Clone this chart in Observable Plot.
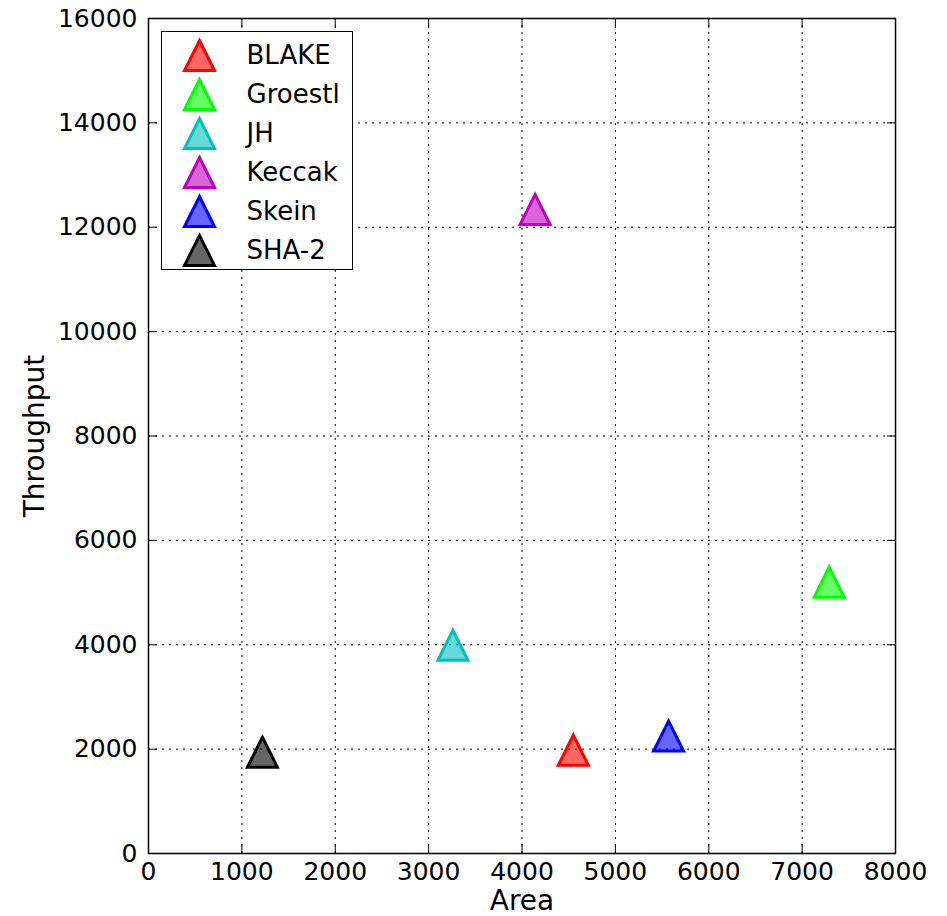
<!DOCTYPE html>
<html>
<head>
<meta charset="utf-8">
<script src="https://cdn.jsdelivr.net/npm/d3@7"></script>
<script src="https://cdn.jsdelivr.net/npm/@observablehq/plot@0.6"></script>
<style>
  html, body { margin: 0; padding: 0; background: white; }
  #wrap { position: relative; width: 947px; height: 916px; }
  #legend { position: absolute; left: 161px; top: 31px; width: 190px; height: 237px;
            border: 1.5px solid black; background: white; }
  #legend svg { display: block; }
</style>
</head>
<body>
<div id="wrap"><div id="legend"></div></div>
<script>
const names = ["BLAKE", "Groestl", "JH", "Keccak", "Skein", "SHA-2"];
const area = [4550, 7290, 3260, 4140, 5570, 1220];
const throughput = [1980, 5200, 3990, 12340, 2250, 1940];
const colors = ["#ff0000", "#00ff00", "#00bfbf", "#bf00bf", "#0000ff", "#000000"];
const xTicks = [0, 1000, 2000, 3000, 4000, 5000, 6000, 7000, 8000];
const yTicks = [0, 2000, 4000, 6000, 8000, 10000, 12000, 14000, 16000];

const data = names.map((n, i) => ({name: n, area: area[i], throughput: throughput[i]}));

// matplotlib-style "^" marker: isosceles triangle, centred on its bounding box
const tri = {
  draw(context, size) {
    const r = Math.sqrt(size / Math.PI);
    context.moveTo(0, -r);
    context.lineTo(r, r);
    context.lineTo(-r, r);
    context.closePath();
  }
};

const font = "DejaVu Sans, sans-serif";

const chart = Plot.plot({
  width: 947,
  height: 916,
  marginLeft: 148,
  marginRight: 52,
  marginTop: 18,
  marginBottom: 63,
  style: {fontFamily: font, fontSize: "25px", background: "white", color: "black", overflow: "visible"},
  x: {domain: [0, 8000], label: null},
  y: {domain: [0, 16000], label: null},
  color: {domain: names, range: colors},
  marks: [
    Plot.gridX(xTicks, {stroke: "black", strokeOpacity: 1, strokeWidth: 1, strokeDasharray: "2,5"}),
    Plot.gridY(yTicks, {stroke: "black", strokeOpacity: 1, strokeWidth: 1, strokeDasharray: "2,5"}),
    Plot.axisX({ticks: xTicks, anchor: "bottom", tickSize: 0, tickPadding: 9, label: null, fontSize: 25, tickFormat: d => String(d)}),
    Plot.axisY({ticks: yTicks, anchor: "left", tickSize: 0, tickPadding: 11, label: null, fontSize: 25, tickFormat: d => String(d)}),
    Plot.axisX({ticks: xTicks, anchor: "bottom", tickSize: -9, text: null, label: null, strokeWidth: 1}),
    Plot.axisX({ticks: xTicks, anchor: "top", tickSize: -9, text: null, label: null, strokeWidth: 1}),
    Plot.axisY({ticks: yTicks, anchor: "left", tickSize: -9, text: null, label: null, strokeWidth: 1}),
    Plot.axisY({ticks: yTicks, anchor: "right", tickSize: -9, text: null, label: null, strokeWidth: 1}),
    Plot.frame({stroke: "black", strokeWidth: 1.5}),
    Plot.dot(data, {x: "area", y: "throughput", fill: "name", stroke: "name", symbol: tri, r: 15,
                    fillOpacity: 0.6, strokeWidth: 3, strokeLinejoin: "miter"}),
    Plot.text(["Area"], {frameAnchor: "bottom", dy: 48, lineAnchor: "middle", textAnchor: "middle", fontSize: 28}),
    Plot.text(["Throughput"], {frameAnchor: "left", dx: -113, rotate: -90, lineAnchor: "middle", textAnchor: "middle", fontSize: 28})
  ]
});
document.getElementById("wrap").prepend(chart);

const legend = Plot.plot({
  width: 190,
  height: 237,
  margin: 0,
  style: {fontFamily: font, fontSize: "26px", background: "white", color: "black"},
  x: {axis: null, domain: [0, 1]},
  y: {axis: null, type: "point", domain: names, range: [21, 219], padding: 0},
  color: {domain: names, range: colors},
  marks: [
    Plot.dot(names, {y: d => d, frameAnchor: "left", dx: 37, fill: d => d, stroke: d => d, symbol: tri, r: 15,
                     fillOpacity: 0.6, strokeWidth: 3}),
    Plot.text(names, {y: d => d, text: d => d, frameAnchor: "left", dx: 84, textAnchor: "start", lineAnchor: "middle", fontSize: 26})
  ]
});
document.getElementById("legend").appendChild(legend);
</script>
</body>
</html>
